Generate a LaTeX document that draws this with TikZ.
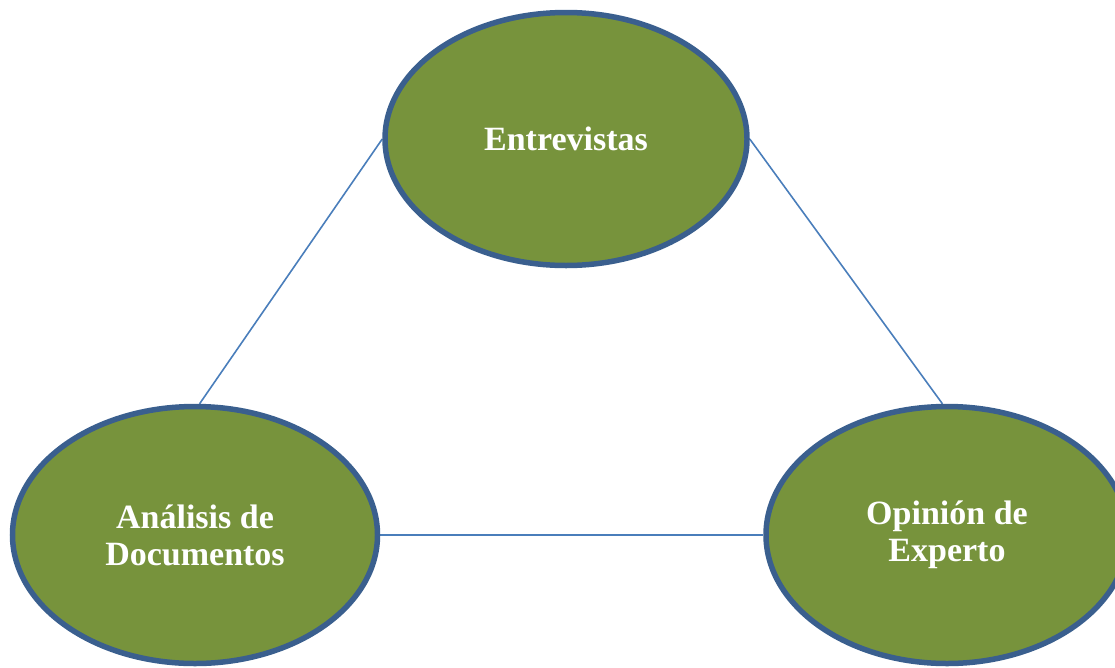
\documentclass[tikz,border=0pt]{standalone}
\usepackage{fontspec}
\setmainfont{Liberation Serif}
\usetikzlibrary{shapes.geometric,backgrounds}
\definecolor{olivefill}{HTML}{77933C}
\definecolor{ovalborder}{HTML}{3A5F8E}
\definecolor{linkblue}{HTML}{4A7EBB}
\begin{document}
\begin{tikzpicture}[x=1pt,y=-1pt,
  oval/.style={ellipse, draw=ovalborder, fill=olivefill, line width=5.5pt,
    inner sep=0pt, text=white, align=center,
    font=\fontsize{34}{37}\selectfont\bfseries},
  link/.style={draw=linkblue, line width=1.6pt}]
\useasboundingbox (0,0) rectangle (1115,667);
\node[oval, minimum width=362pt, minimum height=253pt] (entre) at (566,139) {Entrevistas};
\node[oval, minimum width=365pt, minimum height=257pt] (anal) at (195,535) {Análisis de\\Documentos};
\node[oval, minimum width=362pt, minimum height=257pt] (opin) at (947,535) {Opinión de\\Experto};
\begin{pgfonlayer}{background}
\draw[link] (entre.180) -- (anal.88);
\draw[link] (entre.0) -- (opin.92);
\draw[link] (anal.0) -- (opin.180);
\end{pgfonlayer}
\end{tikzpicture}
\end{document}
